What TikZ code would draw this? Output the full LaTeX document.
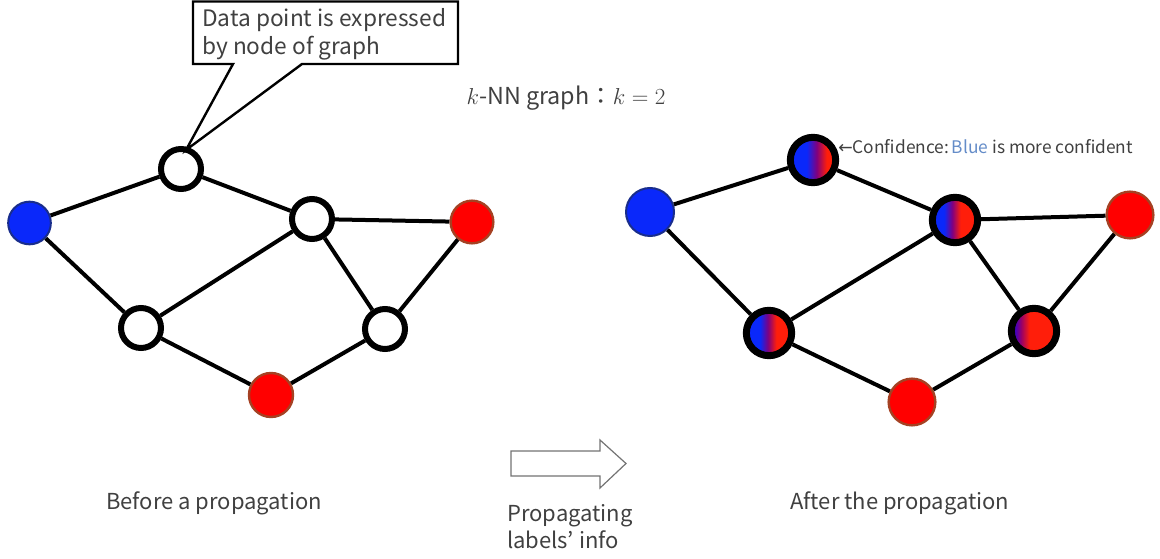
\documentclass[tikz,border=0pt]{standalone}
\usepackage{fontspec}
\setmainfont{Noto Sans CJK JP}
\newfontfamily\symfont{DejaVu Sans}
\definecolor{ptblue}{RGB}{10,40,250}
\definecolor{ptblueedge}{RGB}{25,45,140}
\definecolor{ptred}{RGB}{255,0,0}
\definecolor{ptrededge}{RGB}{165,65,35}
\definecolor{mixred}{RGB}{255,30,10}
\definecolor{txt}{RGB}{64,64,64}
\definecolor{lightblue}{RGB}{100,140,200}
% horizontal blends of label confidence (path box maps to 25bp..75bp)
\pgfdeclarehorizontalshading{mixtop}{100bp}{color(0bp)=(ptblue); color(43bp)=(ptblue); color(54bp)=(blue!50!red); color(65bp)=(mixred); color(100bp)=(mixred)}
\pgfdeclarehorizontalshading{mixur}{100bp}{color(0bp)=(ptblue); color(38bp)=(ptblue); color(47bp)=(blue!50!red); color(56bp)=(mixred); color(100bp)=(mixred)}
\pgfdeclarehorizontalshading{mixll}{100bp}{color(0bp)=(ptblue); color(40bp)=(ptblue); color(49bp)=(blue!50!red); color(58bp)=(mixred); color(100bp)=(mixred)}
\pgfdeclarehorizontalshading{mixlr}{100bp}{color(0bp)=(blue!80!red); color(29bp)=(blue!75!red); color(36bp)=(blue!40!red); color(45bp)=(mixred); color(100bp)=(mixred)}
\begin{document}
\begin{tikzpicture}[x=0.75pt,y=-0.75pt,
  edge/.style={line width=3pt,black},
  emptypt/.style={circle,draw=black,fill=white,line width=4.5pt,minimum size=30pt,inner sep=0pt},
  ringpt/.style={circle,draw=black,line width=5.25pt,minimum size=34pt,inner sep=0pt},
  bluept/.style={circle,fill=ptblue,draw=ptblueedge,line width=1.5pt,inner sep=0pt},
  redpt/.style={circle,fill=ptred,draw=ptrededge,line width=1.8pt,inner sep=0pt},
  lbl/.style={text=txt,font=\fontsize{16.5}{20.5}\selectfont,inner sep=0pt}]
\useasboundingbox (0,0) rectangle (1160,559);

% ---- graph before propagation ----
\node[bluept,minimum size=32pt] (a1) at (29.5,223) {};
\node[emptypt] (b1) at (181,169) {};
\node[emptypt] (c1) at (312,219) {};
\node[redpt,minimum size=32pt] (d1) at (472,222) {};
\node[emptypt] (e1) at (141,328) {};
\node[emptypt] (f1) at (385,329) {};
\node[redpt,minimum size=33pt] (g1) at (271,395) {};
\foreach \u/\v in {a1/b1,a1/e1,b1/c1,c1/d1,c1/e1,c1/f1,d1/f1,e1/g1,g1/f1}
  \draw[edge] (\u) -- (\v);

% ---- graph after propagation ----
\node[bluept,minimum size=36pt] (a2) at (650,212) {};
\node[ringpt,shading=mixtop] (b2) at (813,160) {};
\node[ringpt,shading=mixur] (c2) at (955,220) {};
\node[redpt,minimum size=35pt] (d2) at (1130,215) {};
\node[ringpt,shading=mixll] (e2) at (769,333) {};
\node[ringpt,shading=mixlr] (f2) at (1034,331) {};
\node[redpt,minimum size=35pt] (g2) at (912,402) {};
\foreach \u/\v in {a2/b2,a2/e2,b2/c2,c2/d2,c2/e2,c2/f2,d2/f2,e2/g2,g2/f2}
  \draw[edge] (\u) -- (\v);

% ---- callout on the empty node ----
\coordinate (tip) at (186,150);
\draw[line width=1.8pt,fill=white] (193,1.5) -- (458,1.5) -- (458,64) -- (302,64) -- (tip) -- (233,64) -- (193,64) -- cycle;
\node[lbl,anchor=north west,align=left,font=\fontsize{17}{21}\selectfont] (callout) at (202,8) {Data point is expressed\\by node of graph};

% ---- titles ----
\node[lbl,font=\fontsize{17.5}{21}\selectfont] (title) at (566,98) {$k$-NN graph：$k=2$};
\node[lbl,anchor=west,font=\fontsize{13}{15}\selectfont] (conf) at (838,147) {{\symfont←}Confidence:\,\textcolor{lightblue}{Blue} is more confident};
\node[lbl] (before) at (214,503) {Before a propagation};
\node[lbl] (after) at (900,503) {After the propagation};
\node[lbl,anchor=north west,align=left] (prop) at (507,504) {Propagating\\labels’ info};

% ---- block arrow ----
\draw[draw=black!55,line width=0.9pt,fill=white] (511,451) -- (600,451) -- (600,440) -- (626,463.5) -- (600,488) -- (600,476) -- (511,476) -- cycle;
\end{tikzpicture}
\end{document}
